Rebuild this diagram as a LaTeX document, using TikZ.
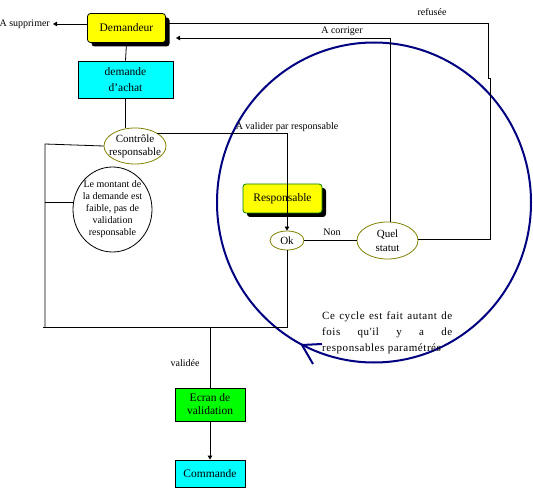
\documentclass[tikz,border=0pt]{standalone}
\usepackage{fontspec}
\setmainfont{Liberation Serif}
\newfontfamily\spacedfont[LetterSpace=5]{Liberation Serif}
\usetikzlibrary{arrows.meta,shapes.geometric,shadows,calc}
\definecolor{olivec}{RGB}{128,128,0}
\definecolor{navyc}{RGB}{0,0,128}
\definecolor{greenborder}{RGB}{0,128,0}
\definecolor{cyanc}{RGB}{0,255,255}
\definecolor{greenc}{RGB}{0,255,0}
\definecolor{yellowc}{RGB}{255,255,0}
\begin{document}
\begin{tikzpicture}[x=1pt,y=-1pt,
  every node/.style={font=\fontsize{10}{12}\selectfont, inner sep=0pt},
  line/.style={draw=black, line width=0.8pt},
  arr/.style={line, -{Triangle[length=4pt,width=4.5pt]}},
  shad/.style={drop shadow={shadow xshift=4pt, shadow yshift=-4pt, fill=black, opacity=1}},
  yellowbox/.style={draw, fill=yellowc, rounded corners=3pt, line width=0.8pt, shad, font=\fontsize{11.5}{13}\selectfont},
  rectbox/.style={draw, line width=0.8pt, align=center},
  oval/.style={ellipse, draw=olivec, fill=white, line width=0.8pt},
  lbl/.style={font=\fontsize{10}{12}\selectfont}
]
\useasboundingbox (0,0) rectangle (533,489);

% big cycle circle
\draw[navyc, line width=2pt] (374,202.5) ellipse [x radius=157pt, y radius=160pt];
\draw[navyc, line width=2pt] (322,344) -- (302,345) -- (313,364);

% nodes
\node[yellowbox, minimum width=78pt, minimum height=29pt] (dem) at (126.5,28) {Demandeur};
\node[lbl, anchor=east] (supp) at (50,24) {A supprimer};
\node[rectbox, fill=cyanc, minimum width=95pt, minimum height=37pt, font=\fontsize{11.5}{16}\selectfont] (da) at (125.5,79.5) {demande\\d'achat};
\node[oval, minimum width=62pt, minimum height=36pt,
  label={[align=center, font=\fontsize{11}{13}\selectfont]center:Contrôle\\responsable}] (cr) at (135,146) {};
\node[ellipse, draw, line width=0.8pt, fill=white, minimum width=79pt, minimum height=85pt,
  label={[align=center, font=\fontsize{10}{12}\selectfont]center:Le montant de\\la demande est\\faible, pas de\\validation\\responsable}] (mont) at (112.5,209.5) {};
\node[yellowbox, draw=greenborder, minimum width=79pt, minimum height=29pt] (resp) at (282.5,198.5) {Responsable};
\node[oval, minimum width=34pt, minimum height=19pt,
  label={[font=\fontsize{11}{13}\selectfont]center:Ok}] (ok) at (287,240.5) {};
\node[oval, minimum width=61pt, minimum height=37pt,
  label={[align=center, font=\fontsize{11}{14}\selectfont]center:Quel\\statut}] (qs) at (387.5,240.5) {};
\node[rectbox, fill=greenc, minimum width=70pt, minimum height=33pt, font=\fontsize{11.5}{13}\selectfont] (ecran) at (210,404.5) {Ecran de\\validation};
\node[rectbox, fill=cyanc, minimum width=70pt, minimum height=27pt, font=\fontsize{11.5}{13}\selectfont] (cmd) at (210,473.5) {Commande};

% labels
\node[lbl] (lrefus) at (432,12) {refusée};
\node[lbl] (lcorr) at (342,31) {A corriger};
\node[lbl] (lval) at (287,127) {A valider par responsable};
\node[lbl] (lnon) at (332,232) {Non};
\node[lbl] (lvalid) at (185,363) {validée};
\node[font=\spacedfont\fontsize{11}{16}\selectfont, align=left, anchor=west] (cycle) at (322,333)
  {\makebox[130pt][s]{Ce cycle est fait autant de}\\
   \makebox[130pt][s]{fois qu'il y a de}\\
   responsables paramétrés};

% coordinates
\coordinate (corrEnd) at (176,38);
\coordinate (bl) at (45,327);
\coordinate (blx) at (43,327);
\coordinate (tl) at (45,144);

% connectors
\draw[arr, shorten >=3pt] (dem.west |- supp) -- (supp.east);
\draw[line] (dem.south) -- (da.north);
\draw[line] (da.south) -- (da.south |- cr.north);
\draw[line] (cr.30) -- (cr.30 -| ok.north) -- (ok.north |- resp.south);
\draw[arr] (ok.north |- resp.south) -- (ok.north);
\draw[line] (ok.east) -- (qs.west);
\draw[line] (ok.south) -- (ok.south |- bl) -- (blx);
\draw[line] (cr.west) -- (tl) -- (bl);
\draw[line] (tl |- mont.170) -- (mont.170);
\draw[line] (ecran.north |- bl) -- (ecran.north);
\draw[arr] (ecran.south) -- (cmd.north);
\draw[arr] (qs.80) -- (qs.80 |- corrEnd) -- (corrEnd);
\draw[line] (dem.east |- 0,23) -- (488,23) -- (488,78) -- (490,78) -- (490,239) -- (qs.east |- 0,239);
\end{tikzpicture}
\end{document}
